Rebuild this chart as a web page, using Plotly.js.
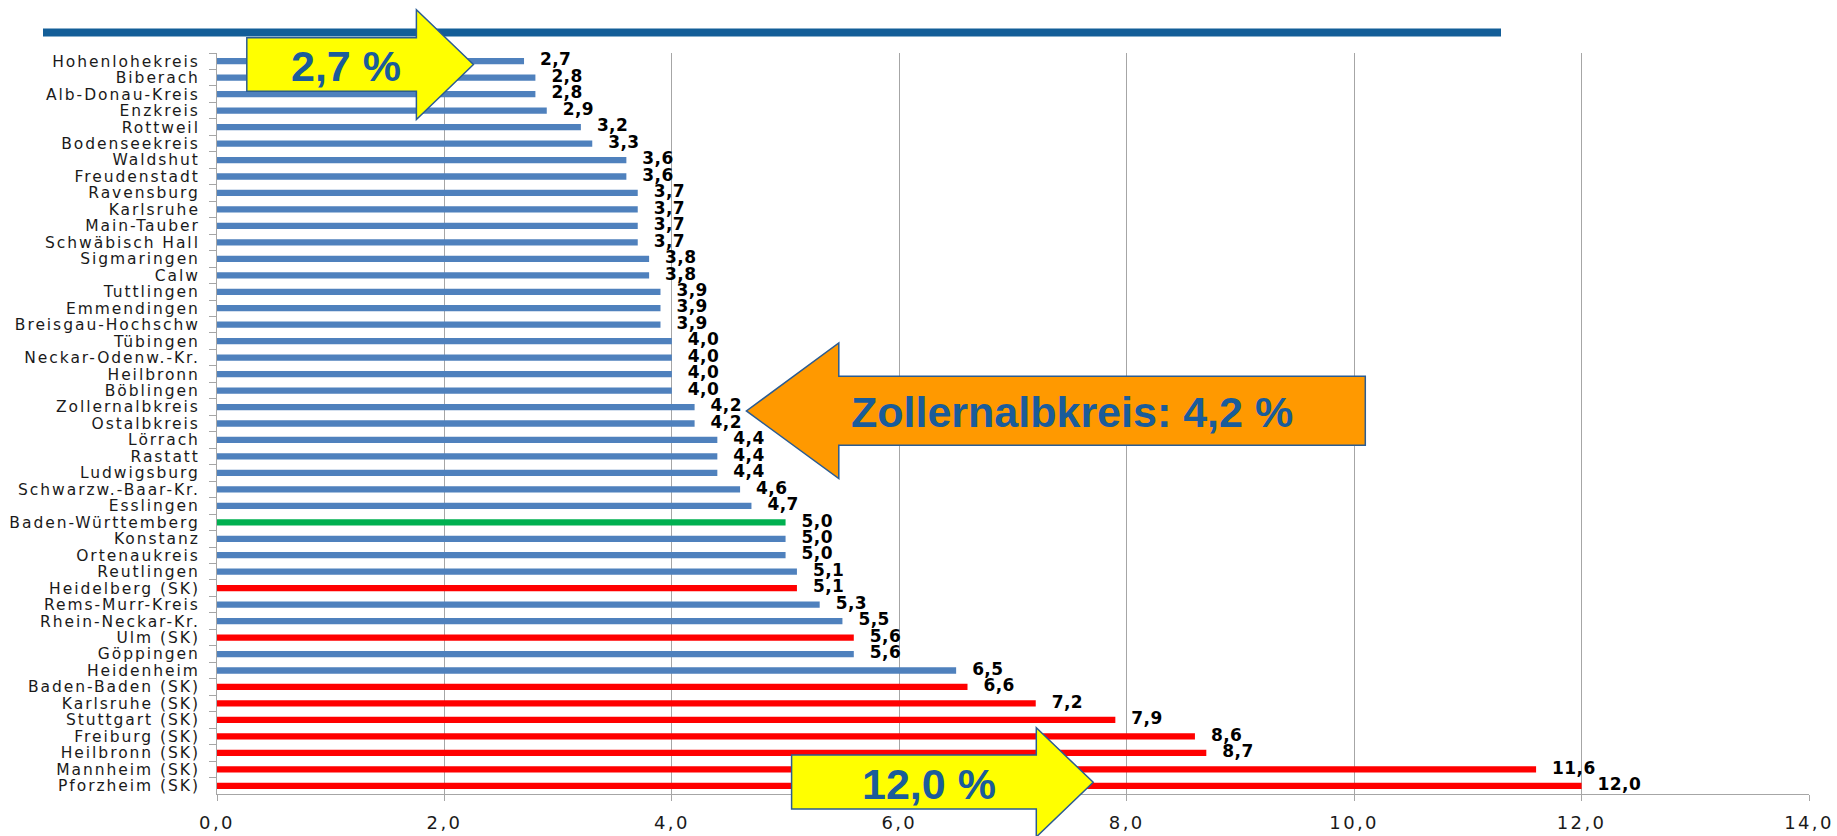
<!DOCTYPE html>
<html><head><meta charset="utf-8">
<script src="https://cdn.plot.ly/plotly-3.0.1.min.js"></script>
<style>
html,body{margin:0;padding:0;background:#fff;}
#chart{width:1837px;height:836px;}
.yaxislayer-above .ytick text{letter-spacing:1.95px;}
.xaxislayer-above .xtick text{letter-spacing:2.4px;}
.scatterlayer .textpoint text{letter-spacing:0.4px;}
</style>
</head><body><div id="chart"></div>
<script>
const categories = ["Hohenlohekreis","Biberach","Alb-Donau-Kreis","Enzkreis","Rottweil","Bodenseekreis","Waldshut","Freudenstadt","Ravensburg","Karlsruhe","Main-Tauber","Schwäbisch Hall","Sigmaringen","Calw","Tuttlingen","Emmendingen","Breisgau-Hochschw","Tübingen","Neckar-Odenw.-Kr.","Heilbronn","Böblingen","Zollernalbkreis","Ostalbkreis","Lörrach","Rastatt","Ludwigsburg","Schwarzw.-Baar-Kr.","Esslingen","Baden-Württemberg","Konstanz","Ortenaukreis","Reutlingen","Heidelberg (SK)","Rems-Murr-Kreis","Rhein-Neckar-Kr.","Ulm (SK)","Göppingen","Heidenheim","Baden-Baden (SK)","Karlsruhe (SK)","Stuttgart (SK)","Freiburg (SK)","Heilbronn (SK)","Mannheim (SK)","Pforzheim (SK)"];
const values = [2.7,2.8,2.8,2.9,3.2,3.3,3.6,3.6,3.7,3.7,3.7,3.7,3.8,3.8,3.9,3.9,3.9,4.0,4.0,4.0,4.0,4.2,4.2,4.4,4.4,4.4,4.6,4.7,5.0,5.0,5.0,5.1,5.1,5.3,5.5,5.6,5.6,6.5,6.6,7.2,7.9,8.6,8.7,11.6,12.0];
const groups = categories.map(c => c === "Baden-Württemberg" ? "Land" : (c.indexOf("(SK)") >= 0 ? "Stadtkreis" : "Landkreis"));
const groupColors = {Landkreis:"#4F81BD", Stadtkreis:"#FF0000", Land:"#00B050"};
const xTickValues = [0,2,4,6,8,10,12,14];
const calloutTexts = ["2,7 %","Zollernalbkreis: 4,2 %","12,0 %"];

const CHARTFONT = "DejaVu Sans, Verdana, sans-serif";
const FONT = "Liberation Sans, Arial, sans-serif";
const OUTLINE = "#2B5C92";
const TEXTBLUE = "#1A5C9A";

function X(px){return (px-217)/1592;}
function Y(py){return (794-py)/741.5;}
function pt(px,py){return X(px).toFixed(5)+","+Y(py).toFixed(5);}
function arrowPath(back,hb,tip,bt,bb,ht,hbt,ty){
  return "M"+pt(back,bt)+" L"+pt(hb,bt)+" L"+pt(hb,ht)+" L"+pt(tip,ty)+" L"+pt(hb,hbt)+" L"+pt(hb,bb)+" L"+pt(back,bb)+" Z";
}

const bars = {
  type:"bar", orientation:"h", x:values, y:categories,
  marker:{color:groups.map(g=>groupColors[g])},
  width:0.38, hoverinfo:"skip"
};
const labels = {
  type:"scatter", mode:"markers+text", x:values, y:categories,
  marker:{size:24, opacity:0},
  texttemplate:"%{x:.1f}", textposition:"middle right",
  textfont:{family:CHARTFONT, size:17, color:"#000", weight:"bold"},
  cliponaxis:false, hoverinfo:"skip"
};

const layout = {
  width:1837, height:836,
  margin:{l:217, r:28, t:52.5, b:42, pad:0},
  paper_bgcolor:"#fff", plot_bgcolor:"#fff",
  separators:",.",
  showlegend:false, hovermode:false,
  xaxis:{
    range:[0,14], tickmode:"array", tickvals:xTickValues, tickformat:".1f",
    showgrid:true, gridcolor:"#A6A6A6", gridwidth:1, zeroline:false,
    showline:true, linecolor:"#A6A6A6", linewidth:1,
    ticks:"outside", ticklen:6, tickcolor:"#A6A6A6",
    tickfont:{family:CHARTFONT, size:18, color:"#1a1a1a"},
    ticklabelstandoff:6
  },
  yaxis:{
    type:"category", categoryorder:"array", categoryarray:categories,
    range:[categories.length-0.5,-0.5],
    tickmode:"linear", tick0:0, dtick:1,
    showgrid:false, zeroline:false,
    showline:true, linecolor:"#A6A6A6", linewidth:1,
    ticks:"outside", tickson:"boundaries", ticklen:7, tickcolor:"#A6A6A6",
    tickfont:{family:CHARTFONT, size:15.5, color:"#1a1a1a"},
    ticklabelstandoff:13
  },
  shapes:[
    {type:"rect", xref:"paper", yref:"paper", x0:X(43), x1:X(1501), y0:Y(36), y1:Y(28), fillcolor:"#135E98", line:{width:0}, layer:"above"},
    {type:"path", xref:"paper", yref:"paper", path:arrowPath(246.8,416.4,473.4,37.3,90.7,9.3,119,64), fillcolor:"#FFFF00", line:{color:OUTLINE, width:1.5}, layer:"above"},
    {type:"path", xref:"paper", yref:"paper", path:arrowPath(1365.3,838.8,746.4,376,445,342.7,478.3,410.7), fillcolor:"#FF9900", line:{color:OUTLINE, width:1.5}, layer:"above"},
    {type:"path", xref:"paper", yref:"paper", path:arrowPath(791.6,1036.3,1093.2,755,809,727.7,837,782.3), fillcolor:"#FFFF00", line:{color:OUTLINE, width:1.5}, layer:"above"}
  ],
  annotations:[
    {xref:"paper", yref:"paper", x:X(346), y:Y(66), text:calloutTexts[0], showarrow:false, xanchor:"center", yanchor:"middle", font:{family:FONT, size:43, color:TEXTBLUE, weight:"bold"}},
    {xref:"paper", yref:"paper", x:X(1072), y:Y(412), text:calloutTexts[1], showarrow:false, xanchor:"center", yanchor:"middle", font:{family:FONT, size:43, color:TEXTBLUE, weight:"bold"}},
    {xref:"paper", yref:"paper", x:X(929), y:Y(784), text:calloutTexts[2], showarrow:false, xanchor:"center", yanchor:"middle", font:{family:FONT, size:43, color:TEXTBLUE, weight:"bold"}}
  ]
};

Plotly.newPlot("chart", [bars, labels], layout, {displayModeBar:false, staticPlot:true});
</script>
</body></html>
